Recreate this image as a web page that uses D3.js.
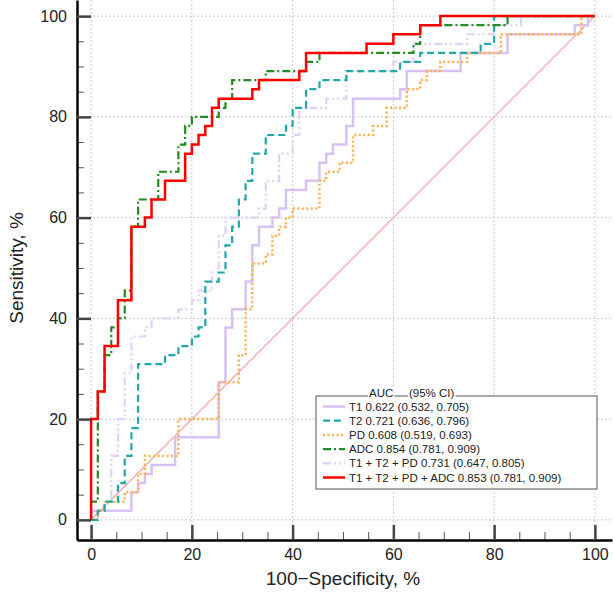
<!DOCTYPE html>
<html>
<head>
<meta charset="utf-8">
<script src="https://cdn.jsdelivr.net/npm/d3@7"></script>
<style>
  body { margin: 0; background: #fff; }
  svg { display: block; font-family: "Liberation Sans", Arial, Helvetica, sans-serif; }
</style>
</head>
<body>
<div id="chart"></div>
<script>
// ROC points: [100-specificity %, sensitivity %], top of each vertical step
var rocT1 = [[0,0],[0,1.8],[8,5.5],[9.33,7.3],[10.67,9.1],[12,10.9],[16.67,16.4],[25.33,27.3],[26.67,38.2],[28,41.8],[30.67,47.3],[32,54.5],[33.33,58.2],[36,60],[37.33,61.8],[38.67,65.5],[42.67,67.3],[45.33,70.9],[46.67,72.7],[48,74.5],[50.67,78.2],[52,83.6],[61.33,85.5],[62.67,89.1],[73.33,92.7],[82.67,96.4],[96,98.2],[98.67,100],[100,100]];
var rocT2 = [[0,0],[1.33,1.8],[2.67,3.6],[5.33,7.3],[6.67,12.7],[8,18.2],[9.33,30.9],[14.67,32.7],[17.33,34.5],[20,36.4],[21.33,38.2],[22.67,47.3],[25.33,49.1],[26.67,54.5],[28,58.2],[29.33,63.6],[30.67,67.3],[32,72.7],[34.67,76.4],[38.67,78.2],[40,81.8],[42.67,85.5],[45.33,87.3],[50.67,89.1],[61.33,90.9],[65.33,92.7],[77.33,94.5],[80,100],[100,100]];
var rocPD = [[0,0],[1.33,1.8],[2.67,3.6],[6.67,5.5],[9.33,9.1],[10.67,12.7],[17.33,20],[25.33,27.3],[29.33,32.7],[30.67,41.8],[32,50.9],[34.67,52.7],[36,56.4],[37.33,58.2],[38.67,60],[40,61.8],[45.33,67.3],[46.67,69.1],[49.33,70.9],[52,76.4],[56,78.2],[58.67,81.8],[62.67,85.5],[65.33,87.3],[66.67,89.1],[69.33,90.9],[74.67,92.7],[81.33,96.4],[97.33,100],[100,100]];
var rocADC = [[0,0],[0,3.6],[1.33,25.5],[2.67,32.7],[4,38.2],[5.33,40],[6.67,45.5],[8,58.2],[9.33,63.6],[13.33,69.1],[17.33,74.5],[18.67,78.2],[20,80],[25.33,81.8],[26.67,83.6],[28,87.3],[34.67,89.1],[42.67,90.9],[45.33,92.7],[64,94.5],[65.33,98.2],[82.67,100],[100,100]];
var rocT1T2PD = [[0,0],[1.33,1.8],[2.67,3.6],[4,12.7],[5.33,20],[6.67,29.1],[8,36.4],[10.67,38.2],[12,40],[17.33,41.8],[20,43.6],[21.33,45.5],[24,49.1],[25.33,56.4],[26.67,60],[33.33,61.8],[34.67,67.3],[37.33,72.7],[40,76.4],[41.33,81.8],[46.67,83.6],[50.67,89.1],[60,90.9],[64,94.5],[74.67,96.4],[80,98.2],[85.33,100],[100,100]];
var rocAll = [[0,0],[0,20],[1.33,25.5],[2.67,34.5],[5.33,43.6],[8,58.2],[10.67,60],[12,63.6],[14.67,67.3],[18.67,72.7],[20,74.5],[21.33,76.4],[22.67,78.2],[24,81.8],[25.33,83.6],[32,85.5],[33.33,87.3],[41.33,89.1],[42.67,92.7],[54.67,94.5],[60,96.4],[65.33,98.2],[69.33,100],[100,100]];

var legendLabels = [
    "T1 0.622 (0.532, 0.705)",
    "T2 0.721 (0.636, 0.796)",
    "PD 0.608 (0.519, 0.693)",
    "ADC 0.854 (0.781, 0.909)",
    "T1 + T2 + PD 0.731 (0.647, 0.805)",
    "T1 + T2 + PD + ADC 0.853 (0.781, 0.909)"
];
var xTicks = [0, 20, 40, 60, 80, 100];
var yTicks = [0, 20, 40, 60, 80, 100];
var minorTicks = d3.range(0, 101, 5);

// series styling, same order as the legend
var series = [
    { data: rocT1,     color: "#d8c2f4", width: 2.5, dash: null },
    { data: rocT2,     color: "#1ea8a8", width: 2.2, dash: "7,4" },
    { data: rocPD,     color: "#ffb04d", width: 2.5, dash: "2,2.5" },
    { data: rocADC,    color: "#228b22", width: 2.2, dash: "8,3,2,3" },
    { data: rocT1T2PD, color: "#e0d0f7", width: 2.2, dash: "8,3,2,3,2,3" },
    { data: rocAll,    color: "#ff0000", width: 2.5, dash: null }
];
var drawOrder = [0, 4, 2, 1, 3, 5];

var width = 613, height = 594;

var svg = d3.select("#chart")
    .append("svg")
    .attr("width", width)
    .attr("height", height);

var x = d3.scaleLinear().domain([-2.8, 103.4]).range([77, 612]);
var y = d3.scaleLinear().domain([-4, 103.2]).range([540, 0]);

// grid
svg.append("g").selectAll("line")
    .data(xTicks)
    .join("line")
    .attr("x1", d => x(d)).attr("x2", d => x(d))
    .attr("y1", 0).attr("y2", 540)
    .attr("stroke", "#c8c8c8").attr("stroke-width", 1).attr("stroke-dasharray", "2,2");
svg.append("g").selectAll("line")
    .data(yTicks)
    .join("line")
    .attr("x1", 77).attr("x2", 612)
    .attr("y1", d => y(d)).attr("y2", d => y(d))
    .attr("stroke", "#c8c8c8").attr("stroke-width", 1).attr("stroke-dasharray", "2,2");

// reference diagonal
svg.append("line")
    .attr("x1", x(0)).attr("y1", y(0))
    .attr("x2", x(100)).attr("y2", y(100))
    .attr("stroke", "#f2a0a0").attr("stroke-width", 1.2);

// ROC curves
var line = d3.line()
    .x(d => x(d[0]))
    .y(d => y(d[1]))
    .curve(d3.curveStepAfter);

drawOrder.forEach(function (i) {
    var s = series[i];
    svg.append("path")
        .datum(s.data)
        .attr("d", line)
        .attr("fill", "none")
        .attr("stroke", s.color)
        .attr("stroke-width", s.width)
        .attr("stroke-dasharray", s.dash);
});

// axes: minor ticks, then major ticks with labels
svg.append("g")
    .attr("transform", "translate(0,540)")
    .call(d3.axisBottom(x).tickValues(minorTicks).tickSize(-8).tickSizeOuter(0).tickFormat(""))
    .call(g => g.select(".domain").remove())
    .call(g => g.selectAll(".tick line").attr("stroke", "#555").attr("stroke-width", 1));
svg.append("g")
    .attr("transform", "translate(77,0)")
    .call(d3.axisLeft(y).tickValues(minorTicks).tickSize(-7).tickSizeOuter(0).tickFormat(""))
    .call(g => g.select(".domain").remove())
    .call(g => g.selectAll(".tick line").attr("stroke", "#555").attr("stroke-width", 1));

var xAxis = svg.append("g")
    .attr("transform", "translate(0,540)")
    .call(d3.axisBottom(x).tickValues(xTicks).tickSize(-15).tickSizeOuter(0).tickPadding(9));
var yAxis = svg.append("g")
    .attr("transform", "translate(77,0)")
    .call(d3.axisLeft(y).tickValues(yTicks).tickSize(-14).tickSizeOuter(0).tickPadding(10));

[xAxis, yAxis].forEach(function (g) {
    g.select(".domain").attr("stroke", "#000").attr("stroke-width", 2.5);
    g.selectAll(".tick line").attr("stroke", "#444").attr("stroke-width", 2.5);
    g.selectAll(".tick text")
        .attr("fill", "#222")
        .style("font-size", "16px")
        .style("font-family", "'Liberation Sans', Arial, sans-serif");
});

// axis titles
svg.append("text")
    .attr("x", x(50))
    .attr("y", 585)
    .attr("text-anchor", "middle")
    .attr("fill", "#222")
    .style("font-size", "19px")
    .text("100\u2212Specificity, %");
svg.append("text")
    .attr("transform", "translate(23," + y(50) + ") rotate(-90)")
    .attr("text-anchor", "middle")
    .attr("fill", "#222")
    .style("font-size", "19px")
    .text("Sensitivity, %");

// legend
var legend = svg.append("g").attr("transform", "translate(316,396)");
legend.append("rect")
    .attr("width", 281).attr("height", 93)
    .attr("fill", "#fff")
    .attr("stroke", "#555").attr("stroke-width", 1);

var titleParts = [{ t: "AUC", x: 53 }, { t: "(95% CI)", x: 93 }];
titleParts.forEach(function (p) {
    var t = legend.append("text")
        .attr("x", p.x).attr("y", 1)
        .attr("fill", "#222")
        .style("font-size", "11.5px")
        .text(p.t);
    var bb = t.node().getBBox();
    legend.insert("rect", "text")
        .attr("x", bb.x - 1).attr("y", bb.y)
        .attr("width", bb.width + 2).attr("height", bb.height)
        .attr("fill", "#fff");
});

var rows = legend.selectAll("g.row")
    .data(series)
    .join("g")
    .attr("class", "row")
    .attr("transform", (d, i) => "translate(0," + (10.5 + i * 14.2) + ")");
rows.append("line")
    .attr("x1", 7).attr("x2", 29)
    .attr("stroke", d => d.color)
    .attr("stroke-width", d => d.width)
    .attr("stroke-dasharray", d => d.dash);
rows.append("text")
    .attr("x", 33).attr("dy", "0.35em")
    .attr("fill", "#222")
    .style("font-size", "11.5px")
    .text((d, i) => legendLabels[i]);
</script>
</body>
</html>
